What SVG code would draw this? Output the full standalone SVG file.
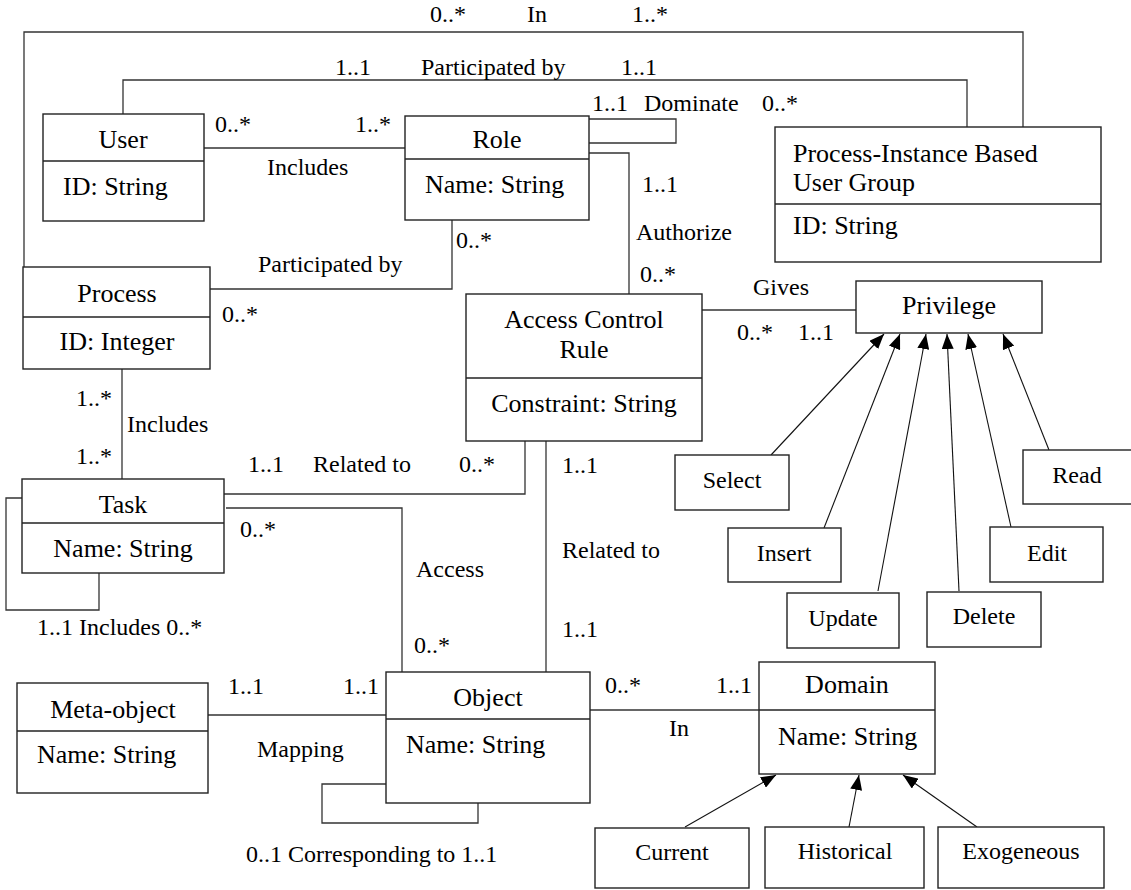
<svg xmlns="http://www.w3.org/2000/svg" width="1131" height="890" viewBox="0 0 1131 890" font-family="'Liberation Serif', 'Times New Roman', serif">
<style>
  .box { fill: #fff; stroke: #222; stroke-width: 1.4; }
  .div { stroke: #222; stroke-width: 1.4; }
  .ln { fill: none; stroke: #333; stroke-width: 1.3; }
  .gen { fill: none; stroke: #111; stroke-width: 1.1; marker-end: url(#tri); }
  text { font-family: 'Liberation Serif', 'Times New Roman', serif; fill: #000; }
  .cn { font-size: 26px; }
  .lb { font-size: 24px; }
  .m { text-anchor: middle; }
</style>
<defs>
  <marker id="tri" markerUnits="userSpaceOnUse" markerWidth="15" markerHeight="12" refX="15" refY="6" orient="auto">
    <path d="M0,0 L15,6 L0,12 z" fill="#000"/>
  </marker>
</defs>
<rect width="1131" height="890" fill="#fff"/>

<g id="connectors">
  <polyline class="ln" points="24,267 24,32 1023,32 1023,127"/>
  <polyline class="ln" points="123,114 123,80 967,80 967,127"/>
  <line class="ln" x1="204" y1="148" x2="405" y2="148"/>
  <polyline class="ln" points="589,119 676,119 676,143 589,143"/>
  <polyline class="ln" points="589,153 629,153 629,294"/>
  <polyline class="ln" points="452,220 452,289 210,289"/>
  <line class="ln" x1="702" y1="310" x2="856" y2="310"/>
  <line class="ln" x1="122" y1="369" x2="122" y2="479"/>
  <polyline class="ln" points="22,498 6,498 6,610 99,610 99,573"/>
  <polyline class="ln" points="224,494 525,494 525,441"/>
  <polyline class="ln" points="226,508 402,508 402,672"/>
  <line class="ln" x1="546" y1="441" x2="546" y2="672"/>
  <line class="ln" x1="208" y1="715" x2="386" y2="715"/>
  <polyline class="ln" points="386,784 322,784 322,823 478,823 478,803"/>
  <line class="ln" x1="590" y1="710" x2="759" y2="710"/>
  <line class="gen" x1="771" y1="455" x2="884" y2="334"/>
  <line class="gen" x1="824" y1="528" x2="900" y2="334"/>
  <line class="gen" x1="878" y1="591" x2="926" y2="334"/>
  <line class="gen" x1="959" y1="591" x2="947" y2="334"/>
  <line class="gen" x1="1011" y1="527" x2="968" y2="334"/>
  <line class="gen" x1="1049" y1="450" x2="1003" y2="334"/>
  <line class="gen" x1="685" y1="827" x2="776" y2="775"/>
  <line class="gen" x1="849" y1="827" x2="859" y2="775"/>
  <line class="gen" x1="977" y1="827" x2="903" y2="775"/>
</g>

<g id="labels">
  <text class="lb" x="430" y="22">0..*</text>
  <text class="lb" x="527" y="22">In</text>
  <text class="lb" x="632" y="22">1..*</text>
  <text class="lb" x="335" y="75">1..1</text>
  <text class="lb" x="421" y="75">Participated by</text>
  <text class="lb" x="621" y="75">1..1</text>
  <text class="lb" x="592" y="111">1..1</text>
  <text class="lb" x="644" y="111">Dominate</text>
  <text class="lb" x="762" y="111">0..*</text>
  <text class="lb" x="215" y="132">0..*</text>
  <text class="lb" x="355" y="132">1..*</text>
  <text class="lb" x="267" y="175">Includes</text>
  <text class="lb" x="642" y="192">1..1</text>
  <text class="lb" x="636" y="240">Authorize</text>
  <text class="lb" x="640" y="282">0..*</text>
  <text class="lb" x="456" y="248">0..*</text>
  <text class="lb" x="258" y="272">Participated by</text>
  <text class="lb" x="753" y="295">Gives</text>
  <text class="lb" x="737" y="340">0..*</text>
  <text class="lb" x="798" y="340">1..1</text>
  <text class="lb" x="222" y="322">0..*</text>
  <text class="lb" x="76" y="406">1..*</text>
  <text class="lb" x="127" y="432">Includes</text>
  <text class="lb" x="76" y="464">1..*</text>
  <text class="lb" x="248" y="472">1..1</text>
  <text class="lb" x="313" y="472">Related to</text>
  <text class="lb" x="459" y="472">0..*</text>
  <text class="lb" x="562" y="473">1..1</text>
  <text class="lb" x="240" y="537">0..*</text>
  <text class="lb" x="416" y="577">Access</text>
  <text class="lb" x="562" y="558">Related to</text>
  <text class="lb" x="37" y="635">1..1 Includes 0..*</text>
  <text class="lb" x="414" y="653">0..*</text>
  <text class="lb" x="562" y="637">1..1</text>
  <text class="lb" x="228" y="694">1..1</text>
  <text class="lb" x="343" y="694">1..1</text>
  <text class="lb" x="257" y="757">Mapping</text>
  <text class="lb" x="605" y="693">0..*</text>
  <text class="lb" x="716" y="693">1..1</text>
  <text class="lb" x="669" y="736">In</text>
  <text class="lb" x="246" y="862">0..1 Corresponding to 1..1</text>
</g>

<g id="user">
  <rect class="box" x="43" y="114" width="161" height="107"/>
  <line class="div" x1="43" y1="161" x2="204" y2="161"/>
  <text class="cn m" x="123" y="148">User</text>
  <text class="cn" x="63" y="195">ID: String</text>
</g>
<g id="role">
  <rect class="box" x="405" y="116" width="184" height="104"/>
  <line class="div" x1="405" y1="159" x2="589" y2="159"/>
  <text class="cn m" x="497" y="148">Role</text>
  <text class="cn" x="425" y="193">Name: String</text>
</g>
<g id="pibug">
  <rect class="box" x="775" y="127" width="326" height="135"/>
  <line class="div" x1="775" y1="204" x2="1101" y2="204"/>
  <text class="cn" x="793" y="162">Process-Instance Based</text>
  <text class="cn" x="793" y="191">User Group</text>
  <text class="cn" x="793" y="234">ID: String</text>
</g>
<g id="process">
  <rect class="box" x="23" y="267" width="187" height="102"/>
  <line class="div" x1="23" y1="317" x2="210" y2="317"/>
  <text class="cn m" x="117" y="302">Process</text>
  <text class="cn m" x="117" y="350">ID: Integer</text>
</g>
<g id="acr">
  <rect class="box" x="466" y="294" width="236" height="147"/>
  <line class="div" x1="466" y1="378" x2="702" y2="378"/>
  <text class="cn m" x="584" y="328">Access Control</text>
  <text class="cn m" x="584" y="358">Rule</text>
  <text class="cn m" x="584" y="412">Constraint: String</text>
</g>
<g id="privilege">
  <rect class="box" x="856" y="281" width="186" height="52"/>
  <text class="cn m" x="949" y="314">Privilege</text>
</g>
<g id="task">
  <rect class="box" x="22" y="479" width="202" height="94"/>
  <line class="div" x1="22" y1="523" x2="224" y2="523"/>
  <text class="cn m" x="123" y="513">Task</text>
  <text class="cn m" x="123" y="557">Name: String</text>
</g>
<g id="select">
  <rect class="box" x="675" y="455" width="114" height="55"/>
  <text class="lb m" x="732" y="488">Select</text>
</g>
<g id="insert">
  <rect class="box" x="728" y="528" width="113" height="54"/>
  <text class="lb m" x="784" y="561">Insert</text>
</g>
<g id="update">
  <rect class="box" x="787" y="593" width="112" height="55"/>
  <text class="lb m" x="843" y="626">Update</text>
</g>
<g id="delete">
  <rect class="box" x="927" y="592" width="114" height="55"/>
  <text class="lb m" x="984" y="624">Delete</text>
</g>
<g id="edit">
  <rect class="box" x="990" y="527" width="113" height="55"/>
  <text class="lb m" x="1047" y="561">Edit</text>
</g>
<g id="read">
  <rect class="box" x="1023" y="450" width="114" height="54"/>
  <text class="lb m" x="1077" y="483">Read</text>
</g>
<g id="meta-object">
  <rect class="box" x="17" y="683" width="191" height="110"/>
  <line class="div" x1="17" y1="731" x2="208" y2="731"/>
  <text class="cn m" x="113" y="718">Meta-object</text>
  <text class="cn" x="37" y="763">Name: String</text>
</g>
<g id="object">
  <rect class="box" x="386" y="672" width="204" height="131"/>
  <line class="div" x1="386" y1="719" x2="590" y2="719"/>
  <text class="cn m" x="488" y="706">Object</text>
  <text class="cn" x="406" y="753">Name: String</text>
</g>
<g id="domain">
  <rect class="box" x="759" y="662" width="176" height="112"/>
  <line class="div" x1="759" y1="710" x2="935" y2="710"/>
  <text class="cn m" x="847" y="693">Domain</text>
  <text class="cn" x="778" y="745">Name: String</text>
</g>
<g id="current">
  <rect class="box" x="595" y="828" width="154" height="60"/>
  <text class="lb m" x="672" y="860">Current</text>
</g>
<g id="historical">
  <rect class="box" x="765" y="827" width="159" height="61"/>
  <text class="lb m" x="845" y="859">Historical</text>
</g>
<g id="exogeneous">
  <rect class="box" x="938" y="827" width="166" height="61"/>
  <text class="lb m" x="1021" y="859">Exogeneous</text>
</g>
</svg>
